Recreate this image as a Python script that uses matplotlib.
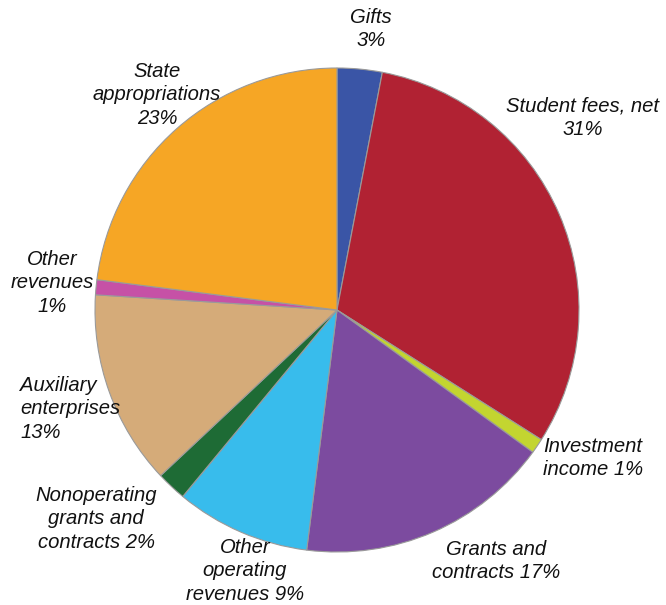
import matplotlib.pyplot as plt

# revenue shares, clockwise from 12 o'clock
names = ['Gifts', 'Student fees, net', 'Investment income', 'Grants and contracts',
         'Other operating revenues', 'Nonoperating grants and contracts',
         'Auxiliary enterprises', 'Other revenues', 'State appropriations']
shares = [3, 31, 1, 17, 9, 2, 13, 1, 23]
colors = ['#3a55a6', '#b12233', '#c3d530', '#7c4b9f', '#38bcec',
          '#1e6b35', '#d5ab79', '#c651a6', '#f6a625']

labels = ['Gifts\n3%', 'Student fees, net\n31%', 'Investment\nincome 1%',
          'Grants and\ncontracts 17%', 'Other\noperating\nrevenues 9%',
          'Nonoperating\ngrants and\ncontracts 2%', 'Auxiliary\nenterprises\n13%',
          'Other\nrevenues\n1%', 'State\nappropriations\n23%']

W, H = 666, 605
fig = plt.figure(figsize=(W / 100, H / 100), dpi=100)
ax = fig.add_axes([0, 0, 1, 1])

cx, cy, r = 337, H - 310, 242
ax.pie(shares, colors=colors, startangle=90, counterclock=False,
       center=(cx, cy), radius=r, frame=True,
       wedgeprops=dict(edgecolor='#9a9a9a', linewidth=0.8))
ax.set_xlim(0, W)
ax.set_ylim(0, H)
ax.set_aspect('equal')
ax.axis('off')

# label anchor points (pixel coords from top), alignment
label_pos = [(371, 29, 'center'), (583, 118, 'center'), (593, 458, 'center'),
             (496, 561, 'center'), (245, 571, 'center'), (96, 519, 'center'),
             (20, 409, 'left'), (52, 283, 'center'), (157, 95, 'center')]

for txt, (x, y, ha) in zip(labels, label_pos):
    ax.text(x, H - y, txt, ha=ha, va='center', multialignment=ha,
            fontsize=14.6, style='italic', family='Liberation Sans',
            linespacing=1.32, color='#111111')

fig.savefig('out.png', dpi=100)
